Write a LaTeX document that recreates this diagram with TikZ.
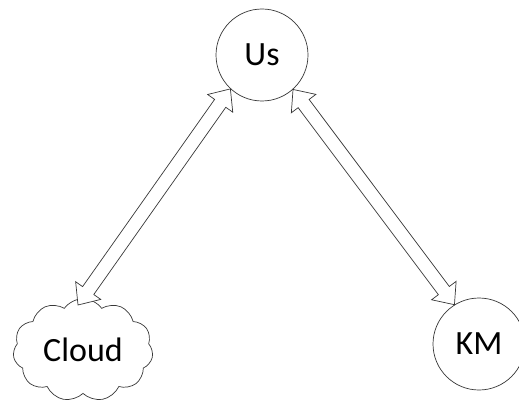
\documentclass[tikz,border=0pt]{standalone}
\usepackage{fontspec}
\setmainfont{Carlito}
\usetikzlibrary{calc}
\usetikzlibrary{shapes.symbols}
\usetikzlibrary{shapes.arrows}

\newcommand{\LinkShaftHalfWidth}{0.195cm}
\newcommand{\LinkHeadExtend}{0.255cm}
\newcommand{\LinkArrow}[2]{
  \path let \p1 = ($(#2)-(#1)$), \n1 = {atan2(\y1,\x1)}, \n2 = {veclen(\x1,\y1)} in
    node[link, rotate=\n1, minimum height=\n2] at ($(#1)!.5!(#2)$) {};
}

\tikzset{
  party/.style={circle, draw=black!78, fill=white, line width=0.6pt,
    font=\fontsize{29}{31}\selectfont},
  link/.style={double arrow, draw=black!78, fill=white, line width=0.6pt,
    inner xsep=0pt, inner ysep=\LinkShaftHalfWidth, minimum width=0pt,
    double arrow head extend=\LinkHeadExtend, double arrow tip angle=82}
}

\begin{document}
\begin{tikzpicture}
\useasboundingbox (0,0) rectangle (15.57,12.09);

\node[party, minimum size=2.76cm] (us) at (7.86,10.44) {Us};
\node[party, cloud, cloud puffs=11, cloud puff arc=110, aspect=1.4,
  minimum width=4.2cm, minimum height=3.0cm] (cloud) at (2.49,1.59) {Cloud};
\node[party, minimum size=2.76cm] (km) at (14.37,1.77) {KM};

\coordinate (usL) at (us.227);
\coordinate (usR) at (us.312);
\coordinate (cloudT) at ($(cloud.center)+(-0.15,1.35)$);
\coordinate (kmT) at (km.122);

\LinkArrow{cloudT}{usL}
\LinkArrow{usR}{kmT}
\end{tikzpicture}
\end{document}
